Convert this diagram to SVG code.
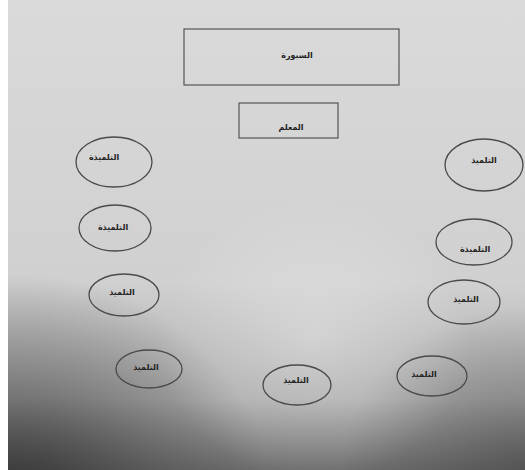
<svg xmlns="http://www.w3.org/2000/svg" width="525" height="470" viewBox="0 0 525 470">
  <defs>
    <linearGradient id="bg" x1="0" y1="0" x2="0" y2="1">
      <stop offset="0" stop-color="#dadada"/>
      <stop offset="0.6" stop-color="#d0d0d0"/>
      <stop offset="0.85" stop-color="#acacac"/>
      <stop offset="1" stop-color="#6e6e6e"/>
    </linearGradient>
    <radialGradient id="dark" cx="0.02" cy="1.08" r="0.5">
      <stop offset="0" stop-color="#2a2a2a" stop-opacity="0.9"/>
      <stop offset="0.6" stop-color="#3a3a3a" stop-opacity="0.35"/>
      <stop offset="1" stop-color="#3a3a3a" stop-opacity="0"/>
    </radialGradient>
    <radialGradient id="dark2" cx="1.0" cy="1.0" r="0.35">
      <stop offset="0" stop-color="#3a3a3a" stop-opacity="0.5"/>
      <stop offset="1" stop-color="#3a3a3a" stop-opacity="0"/>
    </radialGradient>
    <radialGradient id="glow" cx="0.6" cy="0.72" r="0.3">
      <stop offset="0" stop-color="#ffffff" stop-opacity="0.3"/>
      <stop offset="1" stop-color="#ffffff" stop-opacity="0"/>
    </radialGradient>
    <style>
      .box { fill: none; stroke: #555; stroke-width: 1.2; }
      .seat { fill: none; stroke: #4a4a4a; stroke-width: 1.3; }
      .lbl { font-family: "DejaVu Sans", sans-serif; font-size: 8px; font-weight: bold; fill: #222; text-anchor: middle; direction: rtl; }
    </style>
  </defs>
  <rect x="0" y="0" width="525" height="470" fill="url(#bg)"/>
  <rect x="0" y="0" width="525" height="470" fill="url(#dark)"/>
  <rect x="0" y="0" width="525" height="470" fill="url(#dark2)"/>
  <rect x="0" y="0" width="525" height="470" fill="url(#glow)"/>
  <rect x="0" y="0" width="8" height="470" fill="#ffffff"/>

  <g id="board">
    <rect class="box" x="184" y="29" width="215" height="56"/>
    <text class="lbl" x="297" y="58">السبورة</text>
  </g>
  <g id="teacher">
    <rect class="box" x="239" y="103" width="99" height="35"/>
    <text class="lbl" x="291" y="130">المعلم</text>
  </g>

  <g id="s1"><ellipse class="seat" cx="114" cy="162" rx="38" ry="25"/><text class="lbl" x="104" y="160">التلميذة</text></g>
  <g id="s2"><ellipse class="seat" cx="484" cy="165" rx="39" ry="26"/><text class="lbl" x="484" y="163">التلميذ</text></g>
  <g id="s3"><ellipse class="seat" cx="115" cy="228" rx="36" ry="23"/><text class="lbl" x="113" y="230">التلميذة</text></g>
  <g id="s4"><ellipse class="seat" cx="474" cy="242" rx="38" ry="23"/><text class="lbl" x="475" y="252">التلميذة</text></g>
  <g id="s5"><ellipse class="seat" cx="124" cy="295" rx="35" ry="21"/><text class="lbl" x="122" y="295">التلميذ</text></g>
  <g id="s6"><ellipse class="seat" cx="464" cy="302" rx="36" ry="22"/><text class="lbl" x="466" y="302">التلميذ</text></g>
  <g id="s7"><ellipse class="seat" cx="149" cy="369" rx="33" ry="19"/><text class="lbl" x="146" y="370">التلميذ</text></g>
  <g id="s8"><ellipse class="seat" cx="297" cy="385" rx="34" ry="20"/><text class="lbl" x="296" y="383">التلميذ</text></g>
  <g id="s9"><ellipse class="seat" cx="432" cy="376" rx="35" ry="20"/><text class="lbl" x="424" y="377">التلميذ</text></g>

  <g id="connectors"></g>
</svg>
